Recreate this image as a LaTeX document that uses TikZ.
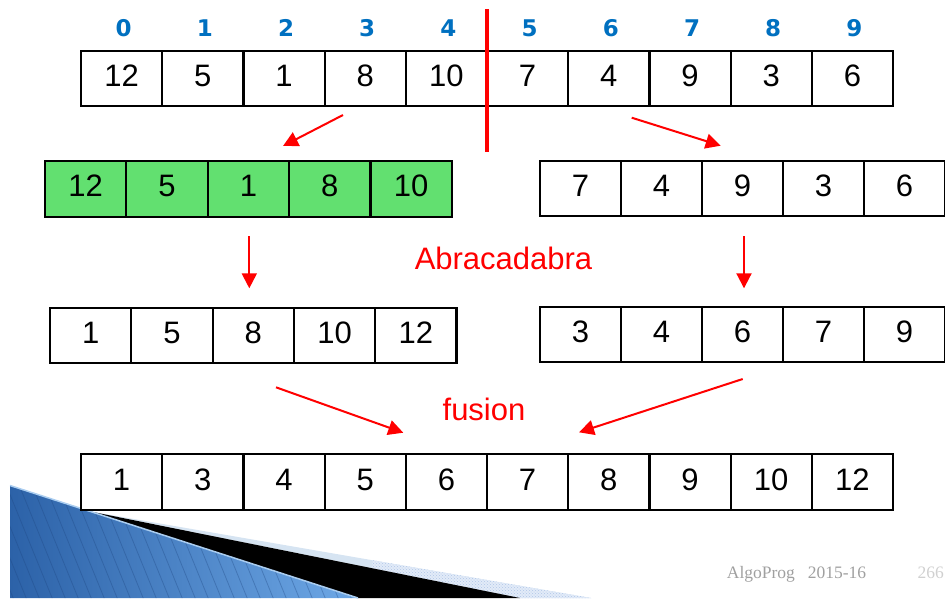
\documentclass[tikz,border=0pt]{standalone}
\usepackage{fontspec}
\setmainfont{Liberation Sans}
\newfontfamily\idxfont{DejaVu Sans}
\newfontfamily\footfont{Liberation Serif}
\usetikzlibrary{arrows.meta,calc,patterns}

\definecolor{idxblue}{RGB}{0,112,192}
\definecolor{cellgreen}{RGB}{98,224,112}
\definecolor{arrowred}{RGB}{255,0,0}
\definecolor{footgray}{RGB}{160,160,160}
\definecolor{pagegray}{RGB}{208,208,208}
\definecolor{swooshdark}{RGB}{44,98,168}
\definecolor{swooshlight}{RGB}{110,168,230}
\definecolor{stripeblue}{RGB}{30,70,130}
\definecolor{edgelight}{RGB}{170,205,240}
\definecolor{bandsolid}{RGB}{214,228,242}
\definecolor{bandtex}{RGB}{176,198,232}
\definecolor{bandbase}{RGB}{226,235,248}

\tikzset{
  cell/.style={draw=black, line width=2.2pt, fill=white, inner sep=0pt,
    minimum width=81.2pt, minimum height=55pt,
    text height=22pt, text depth=6pt, font=\fontsize{31}{31}\selectfont},
  greencell/.style={cell, fill=cellgreen},
  idx/.style={text=idxblue, inner sep=0pt, anchor=base,
    font=\idxfont\bfseries\fontsize{23}{23}\selectfont},
  redarrow/.style={draw=arrowred, line width=2pt,
    -{Triangle[length=15pt,width=15pt]}},
  caption/.style={text=arrowred, inner sep=0pt, anchor=base,
    font=\fontsize{31}{31}\selectfont},
  foot/.style={inner sep=0pt, anchor=base west,
    font=\footfont\fontsize{17.5}{17.5}\selectfont},
}

\begin{document}
\begin{tikzpicture}[x=1pt, y=-1pt]
\useasboundingbox (0,0) rectangle (945,598);

% ---- slide ornament, bottom left ----
\coordinate (sw1) at (10,485.5);
\coordinate (sw2) at (358,598);
\coordinate (sw3) at (10,598);
\coordinate (bk0) at (90,511.4);
\coordinate (bk1) at (520,598);
\coordinate (bd1) at (591,598);

% light band above the black wedge
\fill[bandsolid] (bk0) -- (bd1) -- (bk1) -- cycle;
\begin{scope}
  \clip (372,0) rectangle (945,598);
  \fill[bandbase] (bk0) -- (bd1) -- (bk1) -- cycle;
  \fill[pattern=crosshatch dots, pattern color=bandtex] (bk0) -- (bd1) -- (bk1) -- cycle;
\end{scope}
% black wedge
\fill[black] (bk0) -- (bk1) -- (sw2) -- cycle;
% blue striped wedge
\shade[left color=swooshdark, right color=swooshlight] (sw1) -- (sw2) -- (sw3) -- cycle;
\begin{scope}
  \clip (sw1) -- (sw2) -- (sw3) -- cycle;
  \foreach \k in {-12,...,32}
    \draw[stripeblue, opacity=0.35, line width=0.8pt] ({\k*13},470) -- ++(55,135);
\end{scope}
\draw[edgelight, line width=1.5pt] (sw1) -- (sw2);

% ---- index labels ----
\foreach \i in {0,...,9}
  \node[idx] (i\i) at ({123.6+81.2*\i},36) {\i};

% ---- initial array ----
\foreach \v [count=\c from 0] in {12,5,1,8,10,7,4,9,3,6}
  \node[cell] (t\c) at ({121.6+81.2*\c},78.5) {\v};

% split line
\coordinate (cutA) at (487,9);
\coordinate (cutB) at (487,152);
\draw[arrowred, line width=3.5pt] (cutA) -- (cutB);

% ---- halves ----
\foreach \v [count=\c from 0] in {12,5,1,8,10}
  \node[greencell, minimum width=81.35pt, minimum height=56pt] (g\c) at ({85.7+81.35*\c},188.7) {\v};
\foreach \v [count=\c from 0] in {7,4,9,3,6}
  \node[cell, minimum width=81pt] (r\c) at ({580.5+81*\c},188.2) {\v};

% ---- sorted halves ----
\foreach \v [count=\c from 0] in {1,5,8,10,12}
  \node[cell, minimum width=81.3pt] (sl\c) at ({90.7+81.3*\c},335.8) {\v};
\foreach \v [count=\c from 0] in {3,4,6,7,9}
  \node[cell, minimum width=81pt] (sr\c) at ({580.5+81*\c},334.5) {\v};

% ---- merged array ----
\foreach \v [count=\c from 0] in {1,3,4,5,6,7,8,9,10,12}
  \node[cell, minimum height=55.7pt] (m\c) at ({121.6+81.2*\c},482.2) {\v};

% ---- captions ----
\node[caption] (abra) at (503.5,269) {Abracadabra};
\node[caption] (fus) at (484,420) {fusion};

% ---- arrows ----
\coordinate (a1s) at (343,115);   \coordinate (a1e) at (283,146);
\coordinate (a2s) at (631.7,117.7); \coordinate (a2e) at (720.7,145.7);
\coordinate (a3s) at (249.3,236); \coordinate (a3e) at (249.3,288.3);
\coordinate (a4s) at (744,236);   \coordinate (a4e) at (744,288.3);
\coordinate (a5s) at (276,387.3); \coordinate (a5e) at (403.3,432.7);
\coordinate (a6s) at (742.7,379); \coordinate (a6e) at (579,432.3);
\draw[redarrow] (a1s) -- (a1e);
\draw[redarrow] (a2s) -- (a2e);
\draw[redarrow] (a3s) -- (a3e);
\draw[redarrow] (a4s) -- (a4e);
\draw[redarrow] (a5s) -- (a5e);
\draw[redarrow] (a6s) -- (a6e);

% ---- footer ----
\node[foot, text=footgray] (course) at (726.7,578.3) {AlgoProg\hspace{12.9pt}2015-16};
\node[foot, text=pagegray] (page) at (917.3,578.3) {266};
\end{tikzpicture}
\end{document}
